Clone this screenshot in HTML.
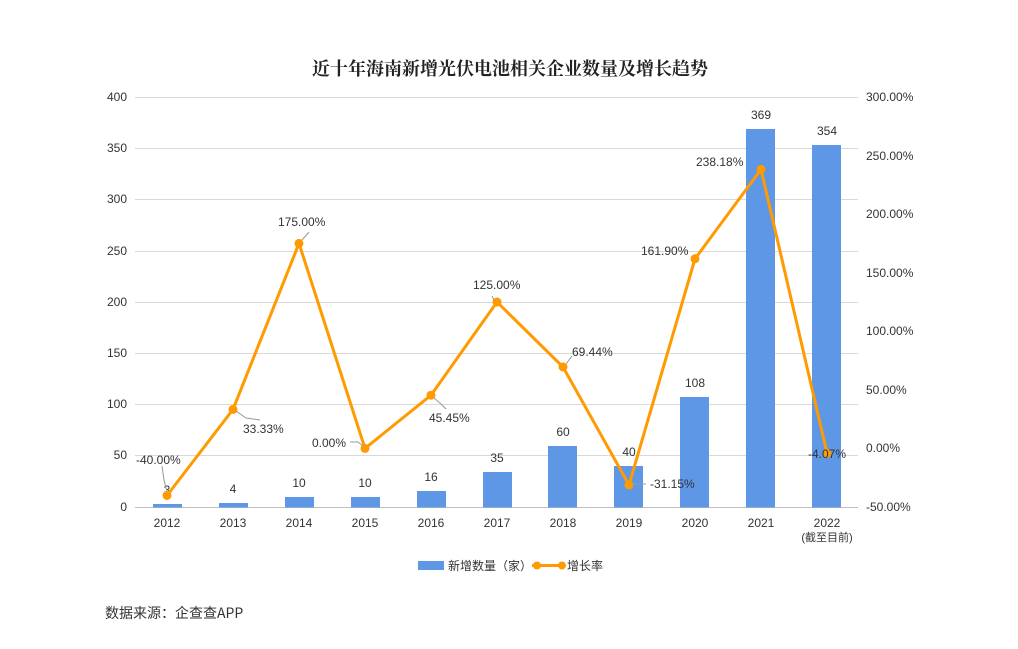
<!DOCTYPE html>
<html><head><meta charset="utf-8"><style>
html,body{margin:0;padding:0;background:#fff;}
svg{display:block;font-family:"Liberation Sans","Noto Sans CJK SC",sans-serif;}
</style></head><body>
<svg width="1018" height="649" viewBox="0 0 1018 649">
<text x="510" y="75" text-anchor="middle" font-size="18" font-weight="bold" font-family="'Liberation Serif','Noto Serif CJK SC',serif" fill="#222">近十年海南新增光伏电池相关企业数量及增长趋势</text>
<g stroke="#d9d9d9" stroke-width="1">
<line x1="135" x2="858" y1="97.5" y2="97.5"/><line x1="135" x2="858" y1="148.5" y2="148.5"/>
<line x1="135" x2="858" y1="199.5" y2="199.5"/><line x1="135" x2="858" y1="251.5" y2="251.5"/>
<line x1="135" x2="858" y1="302.5" y2="302.5"/><line x1="135" x2="858" y1="353.5" y2="353.5"/>
<line x1="135" x2="858" y1="404.5" y2="404.5"/><line x1="135" x2="858" y1="455.5" y2="455.5"/>
<line x1="135" x2="858" y1="507.5" y2="507.5" stroke="#bfbfbf"/>
</g>
<g font-size="12" fill="#333" text-anchor="end">
<text x="127" y="101">400</text><text x="127" y="152">350</text><text x="127" y="203">300</text>
<text x="127" y="255">250</text><text x="127" y="306">200</text><text x="127" y="357">150</text>
<text x="127" y="408">100</text><text x="127" y="459">50</text><text x="127" y="511">0</text>
</g>
<g font-size="12" fill="#333">
<text x="866" y="101">300.00%</text><text x="866" y="160">250.00%</text><text x="866" y="218">200.00%</text>
<text x="866" y="277">150.00%</text><text x="866" y="335">100.00%</text><text x="866" y="394">50.00%</text>
<text x="866" y="452">0.00%</text><text x="866" y="511">-50.00%</text>
</g>
<g fill="#5e97e6">
<rect x="153" y="504" width="29" height="3.5"/>
<rect x="219" y="503" width="29" height="4.5"/>
<rect x="285" y="497" width="29" height="10.5"/>
<rect x="351" y="497" width="29" height="10.5"/>
<rect x="417" y="491" width="29" height="16.5"/>
<rect x="483" y="472" width="29" height="35.5"/>
<rect x="548" y="446" width="29" height="61.5"/>
<rect x="614" y="466" width="29" height="41.5"/>
<rect x="680" y="397" width="29" height="110.5"/>
<rect x="746" y="129" width="29" height="378.5"/>
<rect x="812" y="145" width="29" height="362.5"/>
</g>
<g font-size="12" fill="#333" text-anchor="middle">
<text x="167" y="494">3</text><text x="233" y="493">4</text><text x="299" y="487">10</text>
<text x="365" y="487">10</text><text x="431" y="481">16</text><text x="497" y="462">35</text>
<text x="563" y="436">60</text><text x="629" y="456">40</text><text x="695" y="387">108</text>
<text x="761" y="119">369</text><text x="827" y="135">354</text>
</g>
<g font-size="12" fill="#333" text-anchor="middle">
<text x="167" y="527">2012</text><text x="233" y="527">2013</text><text x="299" y="527">2014</text>
<text x="365" y="527">2015</text><text x="431" y="527">2016</text><text x="497" y="527">2017</text>
<text x="563" y="527">2018</text><text x="629" y="527">2019</text><text x="695" y="527">2020</text>
<text x="761" y="527">2021</text><text x="827" y="527">2022</text><text x="827" y="541" font-size="11">(截至目前)</text>
</g>
<polyline fill="none" stroke="#ff9a00" stroke-width="3" stroke-linejoin="round" points="167,495.5 233,409.4 299,243.4 365,448.4 431,395.2 497,302 563,367 629,484.9 695,258.8 761,169.4 827,453.2"/>
<g fill="#ff9a00">
<circle cx="167" cy="495.5" r="4.5"/><circle cx="233" cy="409.4" r="4.5"/><circle cx="299" cy="243.4" r="4.5"/>
<circle cx="365" cy="448.4" r="4.5"/><circle cx="431" cy="395.2" r="4.5"/><circle cx="497" cy="302" r="4.5"/>
<circle cx="563" cy="367" r="4.5"/><circle cx="629" cy="484.9" r="4.5"/><circle cx="695" cy="258.8" r="4.5"/>
<circle cx="761" cy="169.4" r="4.5"/><circle cx="827" cy="453.2" r="4.5"/>
</g>
<g stroke="#999" stroke-width="1" fill="none">
<polyline points="162,466 164,480 167,492"/>
<polyline points="236,411 246,418 260,420"/>
<polyline points="302,240 309,232"/>
<polyline points="350,442 358,442 363,446"/>
<polyline points="434,398 441,404 446,409"/>
<polyline points="494,300 492,296"/>
<polyline points="566,364 572,356"/>
<polyline points="632,484 646,484"/>
</g>
<g font-size="12" fill="#333">
<text x="136" y="464">-40.00%</text>
<text x="243" y="433">33.33%</text>
<text x="278" y="226">175.00%</text>
<text x="312" y="447">0.00%</text>
<text x="429" y="422">45.45%</text>
<text x="473" y="289">125.00%</text>
<text x="572" y="356">69.44%</text>
<text x="650" y="488">-31.15%</text>
<text x="641" y="255">161.90%</text>
<text x="696" y="166">238.18%</text>
<text x="808" y="458">-4.07%</text>
</g>
<rect x="418" y="561" width="26" height="9" fill="#5e97e6"/>
<text x="448" y="570" font-size="12" fill="#333">新增数量（家）</text>
<line x1="532" x2="565" y1="565.5" y2="565.5" stroke="#ff9a00" stroke-width="3"/>
<circle cx="537" cy="565.5" r="4" fill="#ff9a00"/><circle cx="562" cy="565.5" r="4" fill="#ff9a00"/>
<text x="567" y="570" font-size="12" fill="#333">增长率</text>
<text x="105" y="618" font-size="14" fill="#333" font-family="'Noto Sans CJK SC','Liberation Serif',sans-serif">数据来源：企查查APP</text>
</svg>
</body></html>
